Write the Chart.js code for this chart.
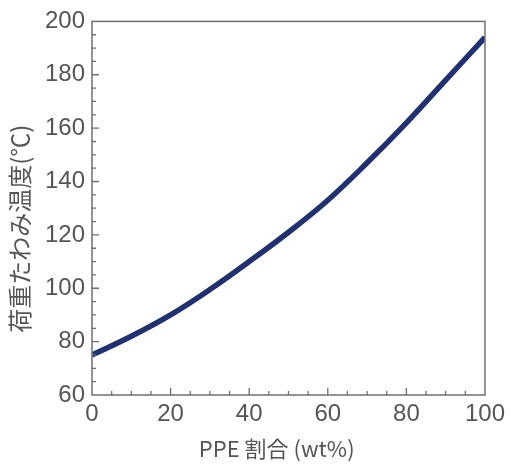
<!DOCTYPE html>
<html lang="ja">
<head>
    <meta charset="UTF-8">
    <title>荷重たわみ温度</title>
    <script src="https://cdn.jsdelivr.net/npm/chart.js"></script>
    <style>
        body {
            margin: 0;
            padding: 0;
            background-color: #fff;
        }

        .wrap {
            width: 510px;
            height: 464px;
        }
    </style>
</head>
<body>
    <div class="wrap">
        <canvas id="hdtChart"></canvas>
    </div>

    <script>
        // PPE ratio (wt%) and deflection temperature under load (°C)
        const ppeRatio = [0, 10, 20, 30, 40, 50, 60, 70, 80, 90, 100];
        const hdtValues = [75, 82, 90, 99.5, 110, 121, 133, 147, 162, 178, 194];
        const xTicks = [0, 20, 40, 60, 80, 100];
        const yTicks = [60, 80, 100, 120, 140, 160, 180, 200];
        const xTitle = 'PPE 割合 (wt%)';
        const yTitle = '荷重たわみ温度(℃)';

        const axisColor = '#6f6f6f';
        const textColor = '#555';
        const titleFont = "'Noto Sans CJK JP', 'Liberation Sans', sans-serif";

        // inner tick marks (every 5, longer every 20), the box round the plot, and the axis titles
        const frameTicks = {
            id: 'frameTicks',
            afterDatasetsDraw(chart) {
                const ctx = chart.ctx;
                const area = chart.chartArea;
                const xs = chart.scales.x;
                const ys = chart.scales.y;
                ctx.save();
                ctx.strokeStyle = axisColor;
                ctx.lineWidth = 1.5;
                ctx.strokeRect(area.left, area.top, area.right - area.left, area.bottom - area.top);
                ctx.lineWidth = 1.3;
                ctx.beginPath();
                for (let v = xs.min + 5; v < xs.max; v += 5) {
                    const px = xs.getPixelForValue(v);
                    const len = v % 20 === 0 ? 7 : 4;
                    ctx.moveTo(px, area.bottom);
                    ctx.lineTo(px, area.bottom - len);
                }
                for (let v = ys.min + 5; v < ys.max; v += 5) {
                    const py = ys.getPixelForValue(v);
                    const len = v % 20 === 0 ? 7 : 4;
                    ctx.moveTo(area.left, py);
                    ctx.lineTo(area.left + len, py);
                }
                ctx.stroke();

                ctx.fillStyle = textColor;
                ctx.textAlign = 'center';
                ctx.textBaseline = 'middle';
                ctx.font = '22px ' + titleFont;
                ctx.fillText(xTitle, area.left + (area.right - area.left) * 0.47, area.bottom + 54);
                ctx.translate(area.left - 72, area.top + (area.bottom - area.top) * 0.555);
                ctx.rotate(-Math.PI / 2);
                ctx.font = '24px ' + titleFont;
                ctx.fillText(yTitle, 0, 0);
                ctx.restore();
            }
        };

        const ctx = document.getElementById('hdtChart').getContext('2d');
        const chart = new Chart(ctx, {
            type: 'line',
            data: {
                datasets: [{
                    label: '荷重たわみ温度',
                    data: ppeRatio.map((x, i) => ({ x: x, y: hdtValues[i] })),
                    borderColor: '#22306e',
                    borderWidth: 5.5,
                    pointRadius: 0,
                    tension: 0.4,
                    fill: false,
                }],
            },
            options: {
                responsive: true,
                maintainAspectRatio: false,
                animation: false,
                layout: {
                    padding: { left: 0, right: 19, top: 20, bottom: 0 }
                },
                plugins: {
                    legend: { display: false },
                    tooltip: { enabled: false },
                },
                scales: {
                    x: {
                        type: 'linear',
                        min: 0,
                        max: 100,
                        afterBuildTicks: (scale) => {
                            scale.ticks = xTicks.map(v => ({ value: v }));
                        },
                        afterFit: (scale) => {
                            scale.height = 69;
                        },
                        grid: { display: false, drawTicks: false },
                        border: { display: false },
                        ticks: {
                            padding: 5,
                            color: textColor,
                            font: { family: 'Liberation Sans', size: 24 },
                        },
                    },
                    y: {
                        min: 60,
                        max: 200,
                        afterBuildTicks: (scale) => {
                            scale.ticks = yTicks.map(v => ({ value: v }));
                        },
                        afterFit: (scale) => {
                            scale.width = 92;
                        },
                        grid: { display: false, drawTicks: false },
                        border: { display: false },
                        ticks: {
                            padding: 7,
                            color: textColor,
                            font: { family: 'Liberation Sans', size: 24 },
                        },
                    },
                },
            },
            plugins: [frameTicks],
        });
    </script>
</body>
</html>
